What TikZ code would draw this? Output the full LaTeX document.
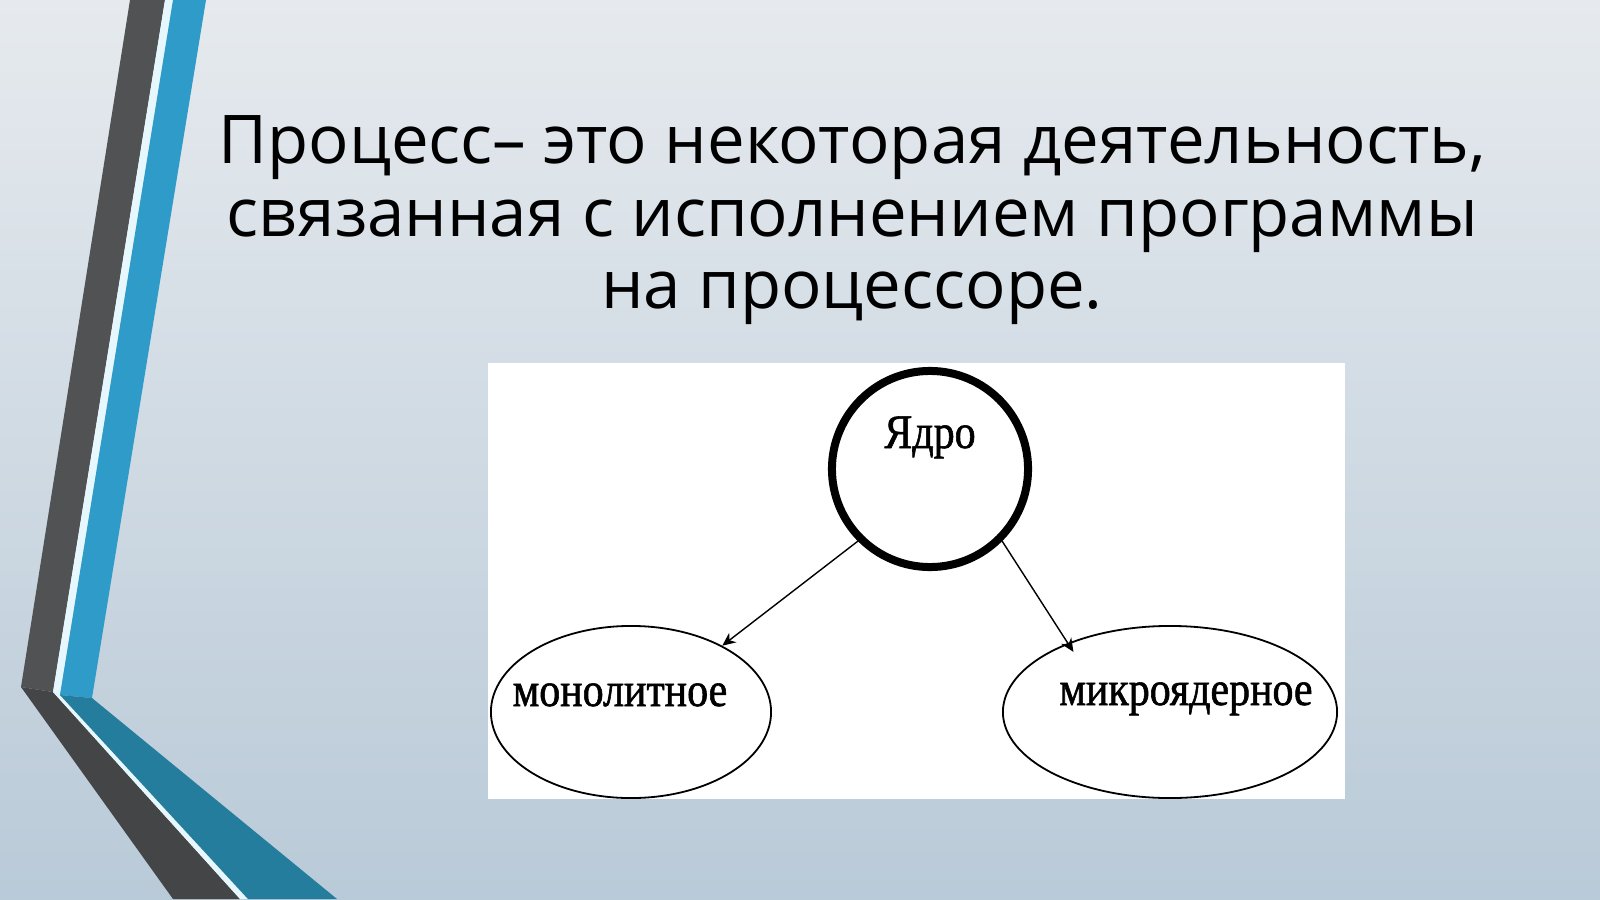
\documentclass[tikz,border=0pt]{standalone}
\usepackage{fontspec}
\setmainfont{Liberation Serif}
\newfontfamily\titlefont{Open Sans}
\newfontfamily\diagfont{Liberation Serif}[FakeStretch=0.87, FakeBold=1.2]
\usetikzlibrary{shapes.geometric, arrows, arrows.meta}
\definecolor{bgtop}{HTML}{E6EAEE}
\definecolor{bgmid}{HTML}{D9E1E8}
\definecolor{bgbot}{HTML}{B9CAD8}
\definecolor{bargray}{HTML}{515254}
\definecolor{bargraydark}{HTML}{444546}
\definecolor{barblue}{HTML}{2F9BC9}
\definecolor{barbluedark}{HTML}{257D9E}
\tikzstyle{kern} = [circle, draw=black, line width=0.08cm, minimum size=1.96cm, inner sep=0pt]
\tikzstyle{part} = [ellipse, draw=black, line width=0.018cm, minimum height=1.72cm, inner sep=0pt]
\tikzstyle{lbl} = [font=\diagfont\fontsize{13.7pt}{16pt}\selectfont, inner sep=0pt, anchor=base]
\tikzstyle{head} = [font=\titlefont\fontsize{19.1pt}{20.6pt}\selectfont, align=center, inner sep=0pt, anchor=north]
\tikzstyle{arrow} = [line width=0.4pt,-{Stealth[length=3.8pt, width=3.4pt]}]

\begin{document}
\begin{tikzpicture}[x=0.01cm, y=0.01cm]
        % background
        \shade[top color=bgtop, middle color=bgmid, bottom color=bgbot] (0,0) rectangle (1600,899);
        \useasboundingbox (0,0) rectangle (1600,899);
        % left bars
        \fill[bargray] (130,899) -- (165,899) -- (53,207) -- (21,212) -- cycle;
        \fill[bargraydark] (21,212) -- (53,207) -- (240,0) -- (173,0) -- cycle;
        \fill[white!90!cyan] (165,899) -- (173,899) -- (60,204) -- (53,207) -- cycle;
        \fill[white!90!cyan] (53,207) -- (60,204) -- (248,0) -- (240,0) -- cycle;
        \fill[barblue] (173,899) -- (206,899) -- (92,201) -- (60,204) -- cycle;
        \fill[barbluedark] (60,204) -- (92,201) -- (337,0) -- (248,0) -- cycle;
        % title
        \node (title) [head] at (852,784) {Процесс– это некоторая деятельность,\\связанная с исполнением программы\\на процессоре.};
        % diagram
        \fill[white] (488,100) rectangle (1345,536);
        \node (kernel) [kern] at (930,430) {};
        \node (mono) [part, minimum width=2.8cm] at (631,187) {};
        \node (micro) [part, minimum width=3.34cm] at (1170,187) {};
        \node (kernlbl) [lbl] at (930,451) {Ядро};
        \node (monolbl) [lbl] at (620,193) {монолитное};
        \node (microlbl) [lbl] at (1186,194) {микроядерное};
        \draw [arrow] (kernel.225) -- (mono.36);
        \draw [arrow, shorten >=-3pt] (kernel.-45) -- (micro.146);
\end{tikzpicture}
\end{document}
